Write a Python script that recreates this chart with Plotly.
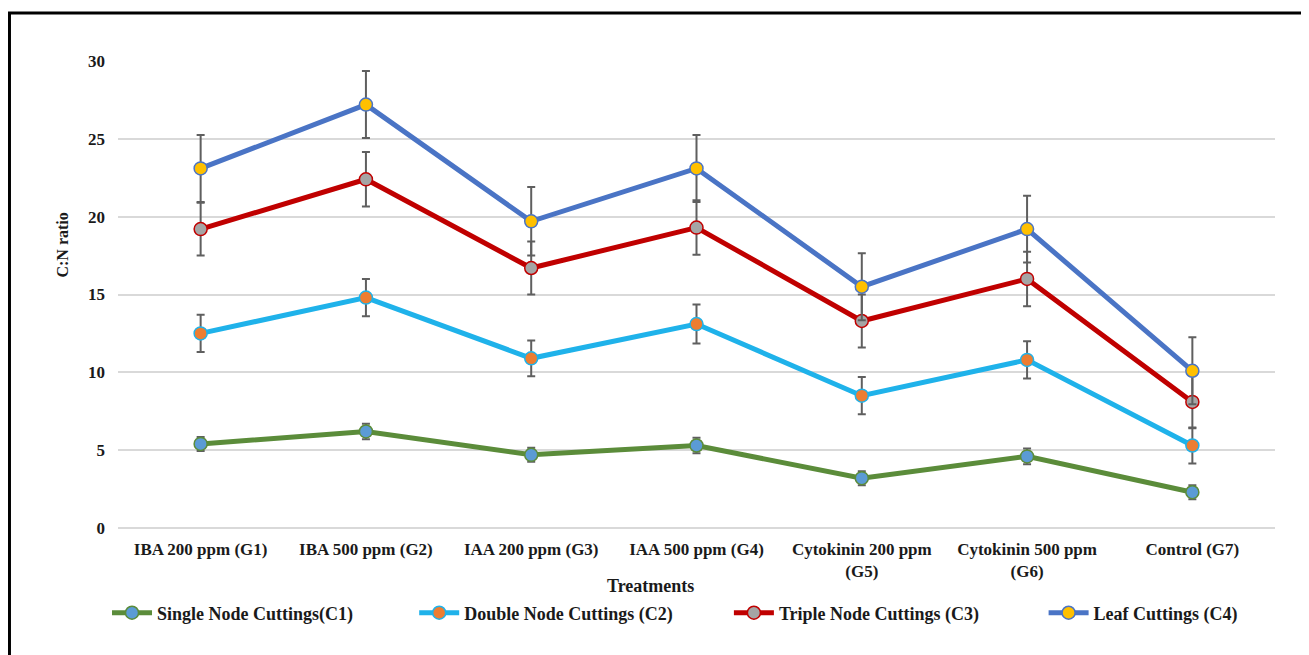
import plotly.graph_objects as go

categories = ["IBA 200 ppm (G1)", "IBA 500 ppm (G2)", "IAA 200 ppm (G3)", "IAA 500 ppm (G4)",
              "Cytokinin 200 ppm<br>(G5)", "Cytokinin 500 ppm<br>(G6)", "Control (G7)"]

series_names = ["Single Node Cuttings(C1)", "Double Node Cuttings (C2)",
                "Triple Node Cuttings (C3)", "Leaf Cuttings (C4)"]

c1_values = [5.4, 6.2, 4.7, 5.3, 3.2, 4.6, 2.3]
c2_values = [12.5, 14.8, 10.9, 13.1, 8.5, 10.8, 5.3]
c3_values = [19.2, 22.4, 16.7, 19.3, 13.3, 16.0, 8.1]
c4_values = [23.1, 27.2, 19.7, 23.1, 15.5, 19.2, 10.1]

c1_err = [0.45, 0.5, 0.45, 0.5, 0.45, 0.5, 0.45]
c2_err = [1.2, 1.2, 1.15, 1.25, 1.2, 1.2, 1.15]
c3_err = [1.7, 1.75, 1.7, 1.75, 1.7, 1.75, 1.7]
c4_err = [2.15, 2.15, 2.2, 2.15, 2.15, 2.15, 2.15]

y_ticks = [0, 5, 10, 15, 20, 25, 30]

line_colors = ["#5b8c3a", "#1fb2ea", "#c00000", "#4a74c5"]
marker_colors = ["#5b9bd5", "#ed7d31", "#a5a5a5", "#ffc000"]

font_family = "Liberation Serif, Times New Roman, serif"

legend_ids = ["legend", "legend2", "legend3", "legend4"]
legend_x = [-0.0095, 0.256, 0.528, 0.800]

fig = go.Figure()
all_vals = [c1_values, c2_values, c3_values, c4_values]
all_errs = [c1_err, c2_err, c3_err, c4_err]
for name, vals, errs, lc, mc, lid in zip(series_names, all_vals, all_errs, line_colors, marker_colors, legend_ids):
    fig.add_trace(go.Scatter(
        x=categories, y=vals, name=name, mode="lines+markers",
        line=dict(color=lc, width=5),
        marker=dict(color=mc, size=13, line=dict(color=lc, width=1.5)),
        error_y=dict(type="data", array=errs, visible=True, color="#5f5f5f", thickness=2, width=4),
        legend=lid, showlegend=True,
    ))

legend_style = dict(orientation="h", xanchor="left", y=-0.182, yanchor="middle",
                    font=dict(family=font_family, size=18, color="#1a1a1a", weight="bold"),
                    bgcolor="rgba(0,0,0,0)", itemwidth=40)

fig.update_layout(
    width=1309, height=655,
    paper_bgcolor="white", plot_bgcolor="white",
    margin=dict(l=110, r=42, t=53, b=135),
    font=dict(family=font_family, size=15, color="#1a1a1a"),
    showlegend=True,
    legend=dict(x=legend_x[0], **legend_style),
    legend2=dict(x=legend_x[1], **legend_style),
    legend3=dict(x=legend_x[2], **legend_style),
    legend4=dict(x=legend_x[3], **legend_style),
    xaxis=dict(type="category", range=[-0.5, 6.5], showgrid=False, showline=False,
               ticks="", tickfont=dict(family=font_family, size=17, weight="bold", color="#1a1a1a"),
               ticklabelstandoff=9, automargin=False),
    yaxis=dict(range=[0, 30], tickvals=y_ticks, showgrid=True, gridcolor="#d9d9d9", gridwidth=1.5,
               zeroline=True, zerolinecolor="#d9d9d9", zerolinewidth=1.5, showline=False, ticks="",
               tickfont=dict(family=font_family, size=17, weight="bold", color="#1a1a1a"),
               ticklabelstandoff=12, automargin=False),
    annotations=[
        dict(text="<b>C:N ratio</b>", xref="paper", yref="paper", x=-0.057, y=0.606,
             textangle=-90, showarrow=False, font=dict(family=font_family, size=16, color="#1a1a1a")),
        dict(text="<b>Treatments</b>", xref="paper", yref="paper", x=0.46, y=-0.150,
             showarrow=False, font=dict(family=font_family, size=18, color="#1a1a1a")),
    ],
    shapes=[
        dict(type="rect", xref="paper", yref="paper", x0=-0.0938, y0=-0.5, x1=1.2, y1=1.1028,
             line=dict(color="black", width=3), fillcolor="rgba(0,0,0,0)", layer="below"),
    ],
)

fig.write_html("out.html")
